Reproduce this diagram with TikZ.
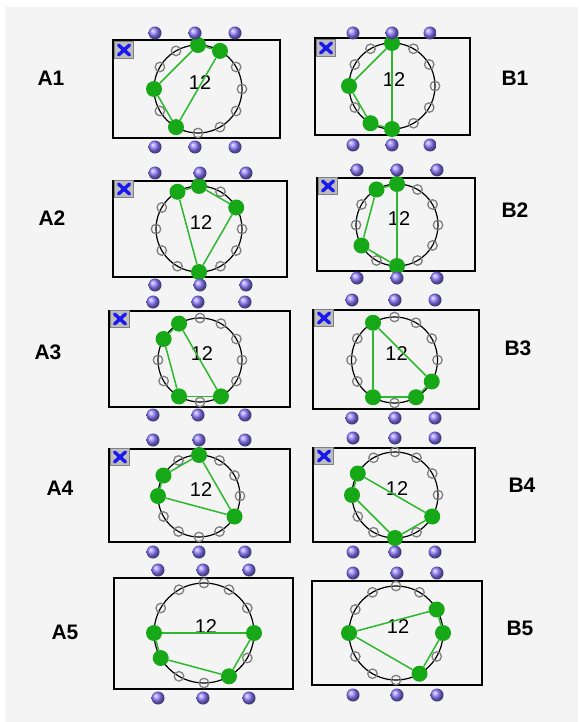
\documentclass[tikz,border=0pt]{standalone}
\usepackage{fontspec}
\setmainfont{Liberation Sans}
\definecolor{bg}{HTML}{F4F4F4}
\definecolor{gfill}{HTML}{16A816}
\definecolor{glinec}{HTML}{2DB82D}
\definecolor{tickc}{HTML}{808080}
\definecolor{ballc}{HTML}{8C7AFF}
\definecolor{xblue}{HTML}{1A1AF0}
\definecolor{xgrey}{HTML}{BEBEBE}
\tikzset{
  ring/.style={draw=black, line width=1.2pt},
  tick/.style={circle, draw=tickc, line width=1.3pt, inner sep=0pt, minimum size=9.5pt},
  gdot/.style={circle, fill=gfill, inner sep=0pt, minimum size=16pt},
  gline/.style={draw=glinec, line width=1.5pt},
  ball/.style={circle, inner sep=0pt, minimum size=13pt, shading=ball, ball color=ballc},
  panelbox/.style={draw=black, line width=1.6pt},
  xbox/.style={fill=xgrey, draw=gray, line width=0.5pt, inner sep=0pt, minimum width=19pt, minimum height=17pt},
  xline/.style={draw=xblue, line width=3.4pt, line cap=round},
  lab/.style={font=\fontsize{21}{24}\selectfont\bfseries},
  num/.style={font=\fontsize{20}{24}\selectfont}
}
% #1 name, #2 cx, #3 cy, #4 r, #5 greens, #6 polygon edges
\newcommand\clockpanel[6]{%
  \begin{scope}[shift={(#2,#3)}]
    \draw[ring] (0,0) circle[radius=#4];
    \foreach \k in {0,...,11}{\node[tick] (#1t\k) at (-90+30*\k:#4) {};}
    \node[num] (#1num) at (2,-6) {12};
    \foreach \k in {#5}{\node[gdot] (#1g\k) at (#1t\k.center) {};}
    \foreach \a/\b in {#6}{\draw[gline] (#1g\a) -- (#1g\b);}
  \end{scope}}
% #1 name, #2 x list, #3 ytop, #4 ybottom
\newcommand\ballrow[4]{%
  \foreach \bx [count=\i] in {#2}{%
    \node[ball] (#1bt\i) at (\bx,#3) {};
    \node[ball] (#1bb\i) at (\bx,#4) {};}}
% #1 name, #2 x, #3 y of box corner
\newcommand\xmark[3]{%
  \node[xbox] (#1x) at (#2+10,#3+9) {};
  \draw[xline] (#2+4.5,#3+4) -- (#2+15.5,#3+14);
  \draw[xline] (#2+4.5,#3+14) -- (#2+15.5,#3+4);}
\begin{document}
\begin{tikzpicture}[x=1pt,y=-1pt]
\useasboundingbox (0,0) rectangle (578,722);
\fill[bg] (5,7) rectangle (578,722);
% boxes
\draw[panelbox] (113,40) rectangle (280,138);
\draw[panelbox] (315,38) rectangle (470,135);
\draw[panelbox] (113,181) rectangle (287,277);
\draw[panelbox] (317,178) rectangle (475,271);
\draw[panelbox] (109,311) rectangle (290,407);
\draw[panelbox] (313,310) rectangle (479,409);
\draw[panelbox] (109,449) rectangle (290,542);
\draw[panelbox] (313,448) rectangle (475,542);
\draw[panelbox] (114,578) rectangle (293,689);
\draw[panelbox] (312,581) rectangle (482,685);
% clocks
\clockpanel{A1}{198}{89}{44}{0,1,7,9}{0/1,1/7,7/9,9/0}
\clockpanel{B1}{392}{86}{43}{0,6,7,9}{0/6,6/7,7/9,9/0}
\clockpanel{A2}{199}{229}{43}{0,2,6,11}{0/2,2/6,6/11,11/0}
\clockpanel{B2}{397}{225}{41}{0,6,8,11}{0/6,6/8,8/11,11/0}
\clockpanel{A3}{200}{360}{42}{5,7,10,11}{5/7,7/10,10/11,11/5}
\clockpanel{B3}{394.5}{360}{43}{4,5,7,11}{4/5,5/7,11/4}
\draw[gline, line width=1.8pt] (B3g11.south) -- (B3g11.south |- B3g7.north);
\clockpanel{A4}{199}{496}{41}{0,4,9,10}{0/4,4/9,9/10,10/0}
\clockpanel{B4}{395}{495}{43}{4,6,9,10}{4/6,6/9,9/10,10/4}
\clockpanel{A5}{204}{633}{50}{3,5,8,9}{3/5,5/8,8/9,9/3}
\clockpanel{B5}{396}{633}{47}{2,3,5,9}{2/3,3/5,5/9,9/2}
% balls
\ballrow{A1}{155,195,235}{33}{147}
\ballrow{B1}{353,392,430}{33}{145}
\ballrow{A2}{155,200,246}{173}{285}
\ballrow{B2}{357,397,437}{170}{278}
\ballrow{A3}{153,198,245}{302}{415}
\ballrow{B3}{352,395,435}{300}{418}
\ballrow{A4}{153,199,245}{440}{552}
\ballrow{B4}{353,395,435}{438}{552}
\ballrow{A5}{158,203,249}{570}{698}
\ballrow{B5}{353,397,437}{573}{695}
% x marks
\xmark{A1}{114}{41}
\xmark{B1}{316}{39}
\xmark{A2}{114}{180}
\xmark{B2}{318}{177}
\xmark{A3}{110}{310}
\xmark{B3}{314}{309}
\xmark{A4}{110}{448}
\xmark{B4}{314}{447}
% labels
\node[lab] (labA1) at (51,78) {A1};
\node[lab] (labB1) at (515,78) {B1};
\node[lab] (labA2) at (52,218) {A2};
\node[lab] (labB2) at (515,210) {B2};
\node[lab] (labA3) at (48,352) {A3};
\node[lab] (labB3) at (518,348) {B3};
\node[lab] (labA4) at (60,488) {A4};
\node[lab] (labB4) at (522,485) {B4};
\node[lab] (labA5) at (65,632) {A5};
\node[lab] (labB5) at (520,628) {B5};
\end{tikzpicture}
\end{document}
